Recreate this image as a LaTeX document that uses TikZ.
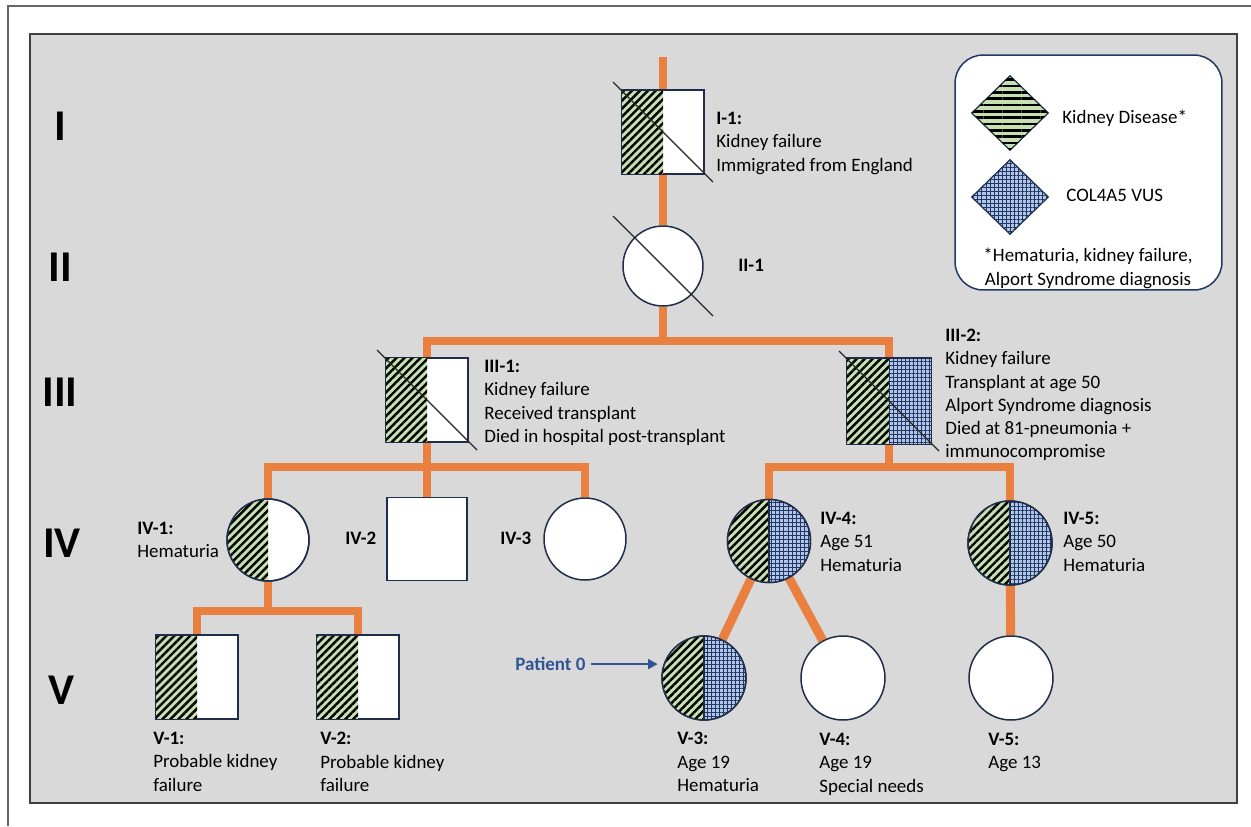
\documentclass[tikz,border=0pt]{standalone}
\usepackage{fontspec}
\setmainfont{Carlito}
\usetikzlibrary{arrows.meta,patterns.meta,shapes.geometric,calc}
\definecolor{bggray}{HTML}{D9D9D9}
\definecolor{framecol}{HTML}{404040}
\definecolor{orangeline}{HTML}{E9803F}
\definecolor{kdgreen}{HTML}{C6E0B2}
\definecolor{vusblue}{HTML}{B4C6E7}
\definecolor{vusline}{HTML}{1F3864}
\definecolor{symline}{HTML}{1F2D4A}
\definecolor{pblue}{HTML}{2F5597}
\pgfdeclarelayer{back}
\pgfdeclarelayer{lines}
\pgfsetlayers{back,lines,main}
\tikzset{
  lab/.style={font=\fontsize{10.8}{13.2}\selectfont, align=left, anchor=north west, inner sep=0pt},
  gen/.style={font=\fontsize{25}{30}\selectfont\bfseries, inner sep=0pt, anchor=center},
  sq/.style={rectangle, draw=symline, line width=0.85pt, fill=white, inner sep=0pt},
  circ/.style={circle, draw=symline, line width=0.85pt, fill=white, inner sep=0pt},
  kd/.style={fill=kdgreen, postaction={pattern={Lines[angle=45,distance=3.2pt,line width=1.4pt]}, pattern color=black}},
  kdleg/.style={fill=kdgreen, postaction={pattern={Lines[angle=0,distance=3.6pt,line width=1.5pt]}, pattern color=black}},
  vus/.style={fill=vusblue, postaction={pattern={Hatch[angle=0,distance=2.3pt,line width=0.55pt]}, pattern color=vusline}},
  famline/.style={draw=orangeline, line width=5.1pt, line join=miter},
  death/.style={draw=black!85, line width=0.75pt},
  border/.style={draw=symline, line width=0.85pt},
  parrow/.style={draw=pblue, line width=1.4pt, -{Triangle[length=5.5pt,width=5.5pt]}},
}
\newcommand{\pedHalfL}[3]{\begin{scope}\clip (#1.center) ++(-60,-60) rectangle ++(60,120);\path[#2] (#1.center) circle[radius=#3];\end{scope}}
\newcommand{\pedHalfR}[3]{\begin{scope}\clip (#1.center) ++(0,-60) rectangle ++(60,120);\path[#2] (#1.center) circle[radius=#3];\end{scope}}
\newcommand{\pedCirc}[2]{\draw[border] (#1.center) circle[radius=#2];}
\newcommand{\pedSqL}[2]{\path[#2] (#1.north west) rectangle (#1.south);}
\newcommand{\pedSqR}[2]{\path[#2] (#1.north) rectangle (#1.south east);}
\newcommand{\pedSq}[1]{\draw[border] (#1.north west) rectangle (#1.south east);}
\newcommand{\pedDeath}[1]{\draw[death] (#1.center) ++(-50,-50) -- ++(100,100);}
\begin{document}
\begin{tikzpicture}[x=0.02cm,y=-0.02cm]
\useasboundingbox (0,0) rectangle (1251,826);
\begin{pgfonlayer}{back}
  \fill[white] (0,0) rectangle (1251,826);
  \draw[framecol!80, line width=0.9pt] (1251,6) -- (8,6) -- (8,826);
  \draw[framecol, fill=bggray, line width=1.4pt] (30,34) rectangle (1237,803);
\end{pgfonlayer}

% generation labels
\node[gen] (gI) at (60,126) {I};
\node[gen] (gII) at (60,267) {II};
\node[gen] (gIII) at (60,392) {III};
\node[gen] (gIV) at (62,543) {IV};
\node[gen] (gV) at (61,690) {V};

% symbols
\node[sq, minimum width=1.64cm, minimum height=1.66cm] (I1) at (663,132) {};
\node[circ, minimum size=1.6cm] (II1) at (663,266) {};
\node[sq, minimum width=1.64cm, minimum height=1.68cm] (III1) at (427,400) {};
\node[sq, minimum width=1.68cm, minimum height=1.7cm] (III2) at (889,401) {};
\node[circ, minimum size=1.64cm] (IV1) at (268,540) {};
\node[sq, minimum width=1.6cm, minimum height=1.66cm] (IV2) at (427,539) {};
\node[circ, minimum size=1.64cm] (IV3) at (585,539) {};
\node[circ, minimum size=1.66cm] (IV4) at (769,541) {};
\node[circ, minimum size=1.68cm] (IV5) at (1010,543) {};
\node[sq, minimum width=1.64cm, minimum height=1.66cm] (V1) at (197,677) {};
\node[sq, minimum width=1.64cm, minimum height=1.66cm] (V2) at (358,677) {};
\node[circ, minimum size=1.68cm] (V3) at (704,678) {};
\node[circ, minimum size=1.68cm] (V4) at (843,678) {};
\node[circ, minimum size=1.68cm] (V5) at (1011,678) {};

% fills
\pedSqL{I1}{kd}\pedSq{I1}
\pedSqL{III1}{kd}\pedSq{III1}
\pedSqL{III2}{kd}\pedSqR{III2}{vus}\pedSq{III2}
\pedHalfL{IV1}{kd}{0.82cm}\pedCirc{IV1}{0.82cm}
\pedHalfL{IV4}{kd}{0.83cm}\pedHalfR{IV4}{vus}{0.83cm}\pedCirc{IV4}{0.83cm}
\draw[border] (IV4.north) -- (IV4.south);
\pedHalfL{IV5}{kd}{0.84cm}\pedHalfR{IV5}{vus}{0.84cm}\pedCirc{IV5}{0.84cm}
\draw[border] (IV5.north) -- (IV5.south);
\pedSqL{V1}{kd}\pedSq{V1}
\pedSqL{V2}{kd}\pedSq{V2}
\pedHalfL{V3}{kd}{0.84cm}\pedHalfR{V3}{vus}{0.84cm}\pedCirc{V3}{0.84cm}
\draw[border] (V3.north) -- (V3.south);

% deceased lines
\pedDeath{I1}
\pedDeath{II1}
\pedDeath{III1}
\pedDeath{III2}

% connectors
\coordinate (topc) at (663,57);
\coordinate (sib3) at (663,341);
\coordinate (c4a) at (427,467);
\coordinate (c4b) at (889,467);
\coordinate (c5a) at (268,611);
\begin{pgfonlayer}{lines}
  \draw[famline] (topc) -- (II1.north);
  \draw[famline] (II1.south) -- (sib3);
  \draw[famline] (III1.north) |- (sib3) -| (III2.north);
  \draw[famline] (III1.south) -- (IV2.north);
  \draw[famline] (IV1.north) |- (c4a) -| (IV3.north);
  \draw[famline] (III2.south) -- (c4b);
  \draw[famline] (IV4.north) |- (c4b) -| (IV5.north);
  \draw[famline] (IV1.south) -- (c5a);
  \draw[famline] (V1.north) |- (c5a) -| (V2.north);
  \draw[famline] (IV4) -- (V3);
  \draw[famline] (IV4) -- (V4);
  \draw[famline] (IV5) -- (V5);
\end{pgfonlayer}

% labels
\node[lab] (lI1) at (716,112) {\textbf{I-1:}\\Kidney failure\\Immigrated from England};
\node[lab] (lII1) at (738,259) {\textbf{II-1}};
\node[lab] (lIII1) at (484,360) {\textbf{III-1:}\\Kidney failure\\Received transplant\\Died in hospital post-transplant};
\node[lab] (lIII2) at (945,329) {\textbf{III-2:}\\Kidney failure\\Transplant at age 50\\Alport Syndrome diagnosis\\Died at 81-pneumonia +\\immunocompromise};
\node[lab] (lIV1) at (137,522) {\textbf{IV-1:}\\Hematuria};
\node[lab] (lIV2) at (345,532) {\textbf{IV-2}};
\node[lab] (lIV3) at (500,532) {\textbf{IV-3}};
\node[lab] (lIV4) at (820,512) {\textbf{IV-4:}\\Age 51\\Hematuria};
\node[lab] (lIV5) at (1063,512) {\textbf{IV-5:}\\Age 50\\Hematuria};
\node[lab] (lV1) at (153,732) {\textbf{V-1:}\\Probable kidney\\failure};
\node[lab] (lV2) at (320,732) {\textbf{V-2:}\\Probable kidney\\failure};
\node[lab] (lV3) at (677,732) {\textbf{V-3:}\\Age 19\\Hematuria};
\node[lab] (lV4) at (819,733) {\textbf{V-4:}\\Age 19\\Special needs};
\node[lab] (lV5) at (988,733) {\textbf{V-5:}\\Age 13};

% patient 0
\node[lab, text=pblue, font=\fontsize{10.8}{13.2}\selectfont\bfseries] (P0) at (515,657) {Patient 0};
\draw[parrow, shorten <=3pt, shorten >=2pt] (P0.east) -- (P0.east -| V3.west);

% legend
\node[draw=vusline, line width=0.85pt, fill=white, rounded corners=16pt, minimum width=5.34cm, minimum height=4.7cm, inner sep=0pt] (leg) at (1088.5,172.5) {};
\node[diamond, draw=symline, line width=0.7pt, inner sep=0pt, minimum width=1.54cm, minimum height=1.5cm, kdleg] (LKD) at (1010,113) {};
\node[diamond, draw=symline, line width=0.7pt, inner sep=0pt, minimum width=1.54cm, minimum height=1.5cm, vus] (LVUS) at (1010,197) {};
\node[lab] (tKD) at (1062,110) {Kidney Disease*};
\node[lab] (tVUS) at (1066,189) {COL4A5 VUS};
\node[lab, align=center, anchor=north] (tfn) at (1088,248) {*Hematuria, kidney failure,\\Alport Syndrome diagnosis};
\end{tikzpicture}
\end{document}
